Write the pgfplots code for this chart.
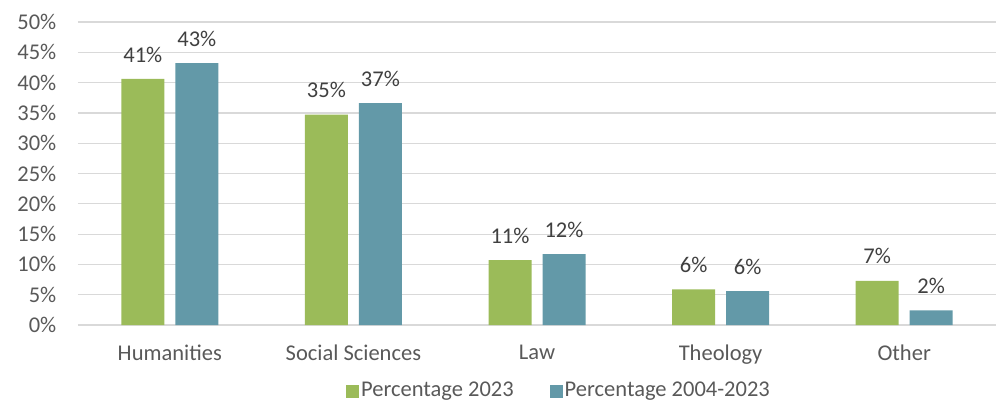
\documentclass[border=0pt]{standalone}
\usepackage{pgfplots}
\pgfplotsset{compat=1.18}
\usepackage{fontspec}
\setmainfont{Carlito}
\definecolor{cgreen}{RGB}{155,187,89}
\definecolor{cblue}{RGB}{99,153,168}
\definecolor{cgrid}{RGB}{217,217,217}
\definecolor{ctext}{RGB}{89,89,89}
\definecolor{clabel}{RGB}{64,64,64}
\begin{document}
\fontsize{22.5}{26}\selectfont
\begin{tikzpicture}
\path[use as bounding box] (-78pt,-80pt) rectangle (918pt,325pt);
\begin{axis}[
  at={(0,0)}, anchor=south west,
  scale only axis,
  width=918pt, height=303pt,
  xmin=-0.5, xmax=4.5,
  ymin=0, ymax=50,
  ytick={0,5,...,50},
  xtick=data,
  xticklabels={Humanities,Social Sciences,Law,Theology,Other},
  yticklabel={\pgfmathprintnumber{\tick}\%},
  /pgf/number format/assume math mode=true,
  ymajorgrids,
  grid style={cgrid, line width=1.2pt},
  axis line style={draw=none},
  major tick length=0pt,
  tick label style={text=ctext, font=\fontsize{22.5}{26}\selectfont},
  yticklabel style={xshift=-14pt},
  xticklabel style={yshift=-12pt},
  ybar, bar width=43pt,
  nodes near coords={\pgfmathprintnumber[fixed,precision=0]{\pgfplotspointmeta}\%},
  every node near coord/.append style={text=clabel, font=\fontsize{22.5}{26}\selectfont, yshift=9pt},
  legend style={at={(0.5,0)}, anchor=north, xshift=22pt, yshift=-53pt, draw=none, fill=none,
    legend columns=2, font=\fontsize{22.5}{26}\selectfont, text=ctext,
    /tikz/every even column/.append style={column sep=34pt}},
  legend image code/.code={\fill[#1] (0pt,-6.5pt) rectangle (13pt,6.5pt);},
]
\addplot[fill=cgreen, draw=none, bar shift=-27pt] coordinates {(0,40.6) (1,34.7) (2,10.7) (3,5.9) (4,7.3)};
\addplot[fill=cblue, draw=none, bar shift=27pt] coordinates {(0,43.2) (1,36.6) (2,11.7) (3,5.6) (4,2.4)};
\legend{Percentage 2023, Percentage 2004-2023}
\end{axis}
\end{tikzpicture}
\end{document}
